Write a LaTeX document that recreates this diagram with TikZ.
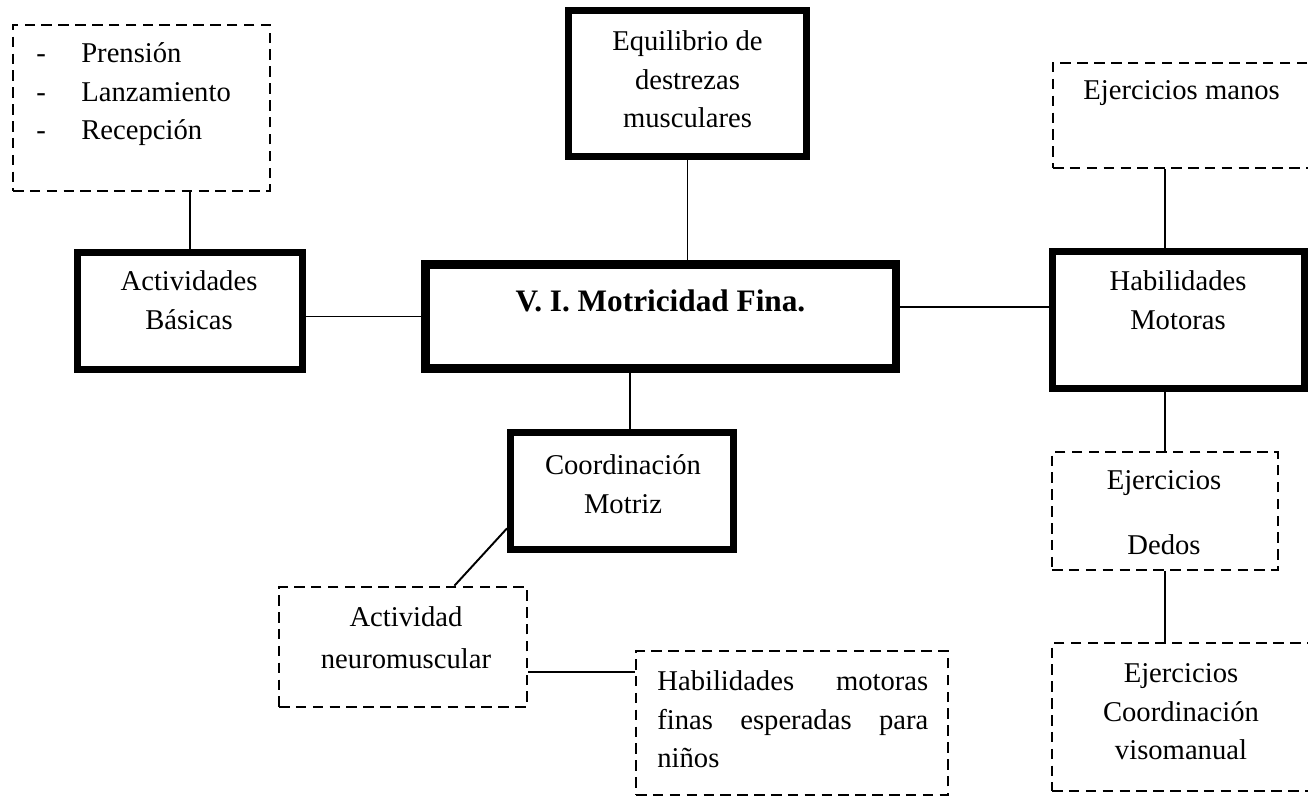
\documentclass[tikz,border=0pt]{standalone}
\usepackage{fontspec}
\setmainfont{Liberation Serif}
\usepackage{tikz}

\begin{document}
\begin{tikzpicture}[x=0.02cm,y=-0.02cm,
  thickbox/.style={draw,line width=4pt,inner sep=0pt},
  dashbox/.style={draw,line width=1.5pt,dash pattern=on 6pt off 3.6pt,inner sep=0pt},
  txt/.style={inner sep=0pt,align=center,font=\fontsize{16.3}{22}\selectfont},
  link/.style={line width=1.1pt}]
\useasboundingbox (0,0) rectangle (1308,797);
% boxes
\node[thickbox,minimum width=9.46cm,minimum height=2.1cm] (main) at (660.5,316.5) {};
\draw[line width=1.1pt] ([shift={(0.16cm,-0.15cm)}]main.north west) rectangle ([shift={(-0.16cm,0.15cm)}]main.south east);
\node[thickbox,minimum width=4.76cm,minimum height=2.92cm] (equi) at (687.5,83.5) {};
\node[thickbox,minimum width=4.5cm,minimum height=2.34cm] (actbas) at (190,311) {};
\node[thickbox,minimum width=5.06cm,minimum height=2.74cm] (habmot) at (1178.5,320) {};
\node[thickbox,minimum width=4.46cm,minimum height=2.34cm] (coord) at (622,491) {};
\node[dashbox,minimum width=5.14cm,minimum height=3.32cm] (prens) at (141.5,108) {};
\node[dashbox,minimum width=5.54cm,minimum height=2.1cm] (manos) at (1191.5,115.5) {};
\node[dashbox,minimum width=4.52cm,minimum height=2.36cm] (dedos) at (1165,511) {};
\node[dashbox,minimum width=5.56cm,minimum height=2.96cm] (visom) at (1191,717) {};
\node[dashbox,minimum width=4.96cm,minimum height=2.4cm] (neuro) at (403,647) {};
\node[dashbox,minimum width=6.24cm,minimum height=2.88cm] (habfin) at (792,723) {};
% texts
\node[txt,font=\fontsize{17.8}{22}\selectfont\bfseries] (main-t) at (660.5,304) {\strut V. I. Motricidad Fina.};
\node[txt] (equi-t) at (687.5,81.3) {\strut Equilibrio de\\\strut destrezas\\\strut musculares};
\node[txt] (actbas-t) at (189,302.5) {\strut Actividades\\\strut Básicas};
\node[txt] (habmot-t) at (1178,302.5) {\strut Habilidades\\\strut Motoras};
\node[txt] (coord-t) at (623,486) {\strut Coordinación\\\strut Motriz};
\node[txt,align=left,anchor=west] (prens-t) at (36,93.3) {\strut\makebox[0.9cm][l]{-}Prensión\\\strut\makebox[0.9cm][l]{-}Lanzamiento\\\strut\makebox[0.9cm][l]{-}Recepción};
\node[txt,anchor=west] (manos-t) at (1083,92) {\strut Ejercicios manos};
\node[txt] (dedos-t) at (1164,514.5) {\strut Ejercicios\\[15pt]\strut Dedos};
\node[txt] (visom-t) at (1181,713.3) {\strut Ejercicios\\\strut Coordinación\\\strut visomanual};
\node[txt] (neuro-t) at (406,640) {\strut Actividad\\[2pt]\strut neuromuscular};
\node[txt,align=left,text width=5.42cm,anchor=west] (habfin-t) at (657,721.3) {\strut Habilidades\hfill motoras\\\strut finas\hfill esperadas\hfill para\\\strut niños};
% connectors
\draw[link] (actbas.north |- prens.south) -- (actbas.north);
\draw[link] (main.west -| actbas.east) -- (main.west);
\draw[link] (equi.south) -- (equi.south |- main.north);
\draw[link] ([xshift=0.16cm]coord.north) -- ([xshift=0.16cm]coord.north |- main.south);
\draw[link] ([yshift=0.19cm]main.east) -- ([yshift=0.19cm]main.east -| habmot.west);
\draw[link] (dedos.north |- manos.south) -- (dedos.north |- habmot.north);
\draw[link] (dedos.north |- habmot.south) -- (dedos.north);
\draw[link] (dedos.south) -- (dedos.south |- visom.north);
\draw[link] (coord.198) -- (neuro.50);
\draw[link] ([yshift=-0.5cm]neuro.east) -- ([yshift=-0.5cm]neuro.east -| habfin.west);
\end{tikzpicture}
\end{document}
